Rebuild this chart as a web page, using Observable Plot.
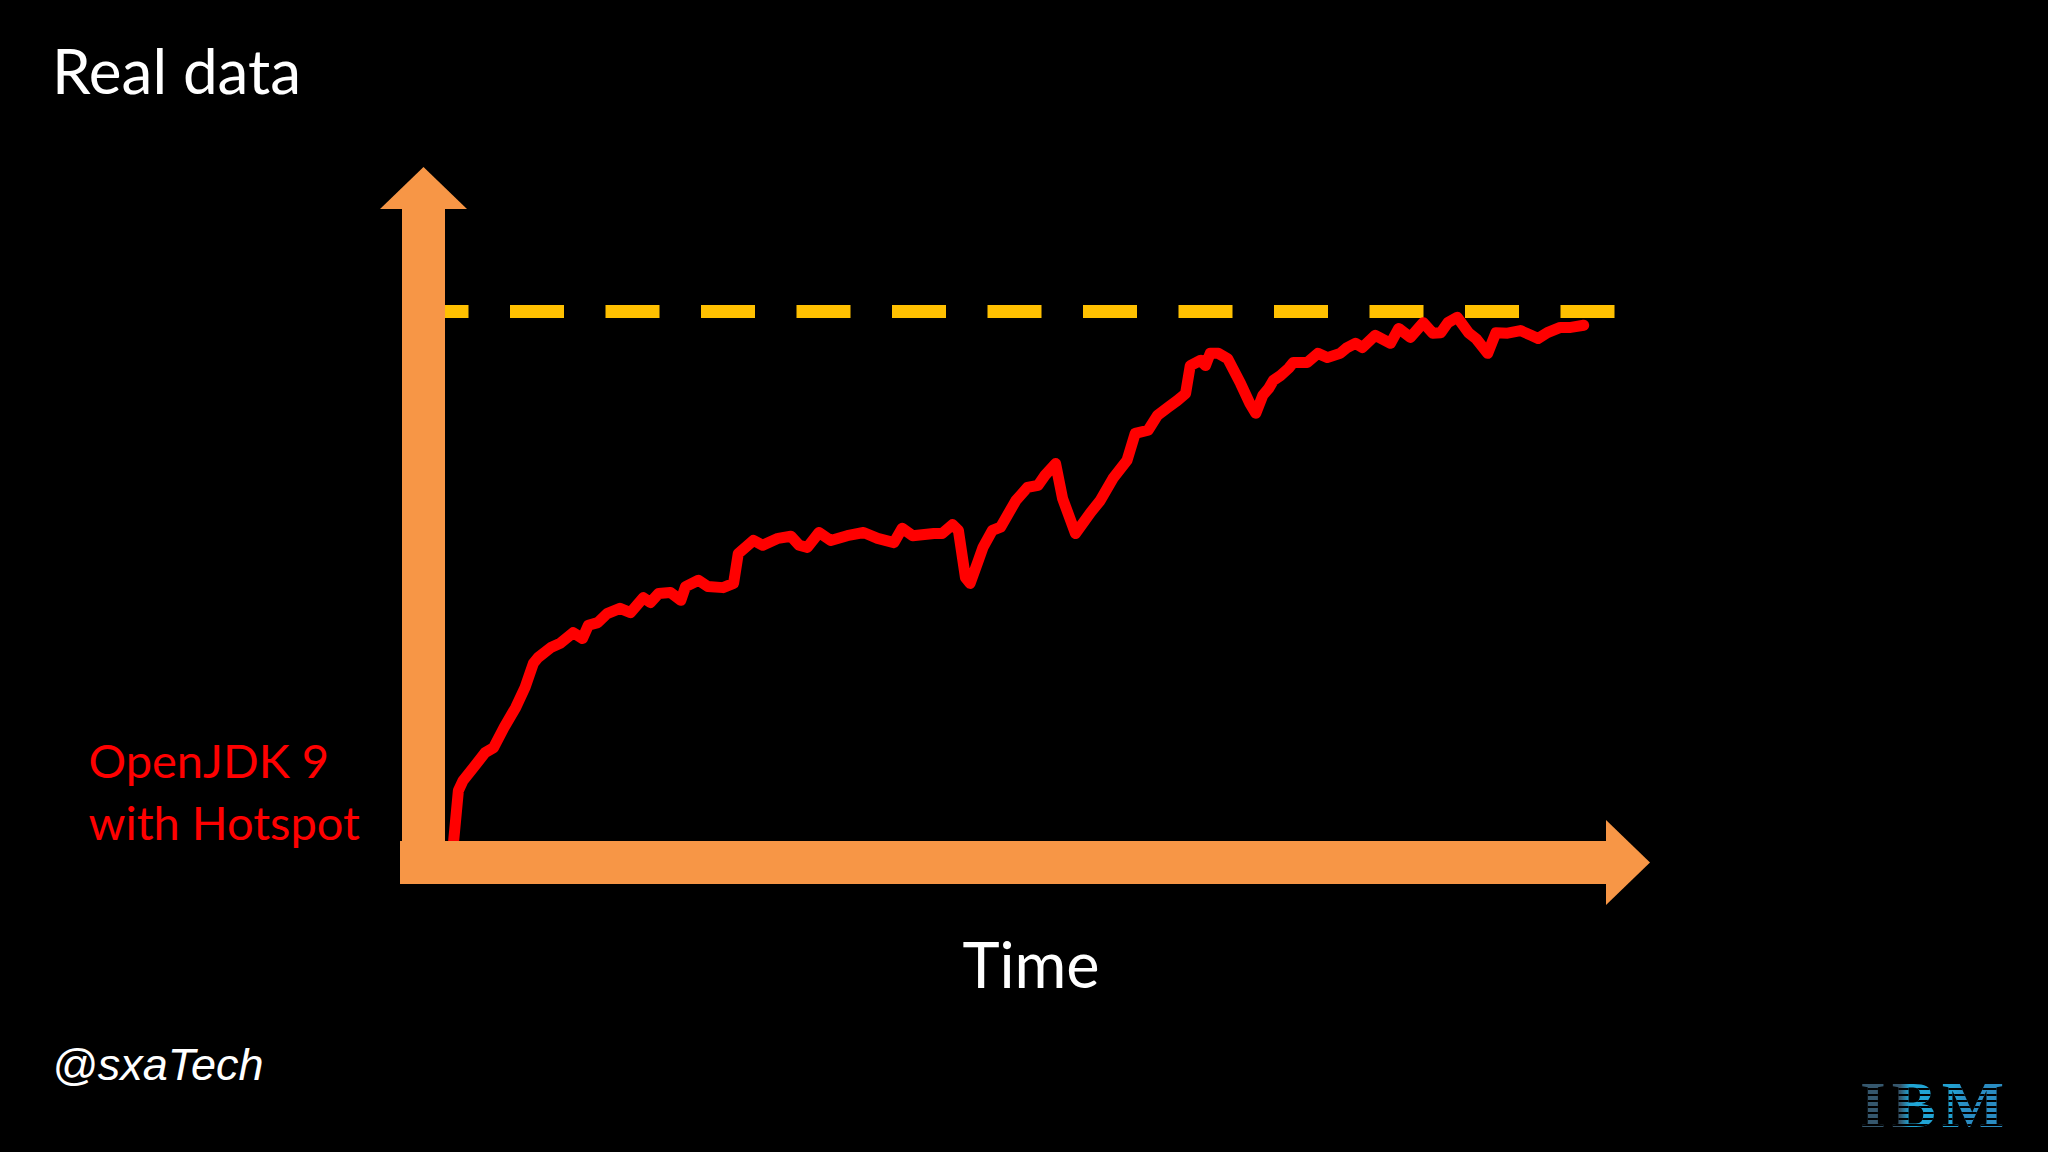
<!DOCTYPE html>
<html>
<head>
<meta charset="utf-8">
<script src="https://cdn.jsdelivr.net/npm/d3@7"></script>
<script src="https://cdn.jsdelivr.net/npm/@observablehq/plot@0.6"></script>
<style>
  html, body { margin: 0; padding: 0; background: #000; }
  #page { position: relative; width: 2048px; height: 1152px; background: #000; overflow: hidden; }
  #title { position: absolute; left: 52px; top: 39px; font-family: Lato, "Open Sans", sans-serif; font-size: 62px; line-height: 62px; color: #fff; white-space: nowrap; }
  #chart { position: absolute; left: 0; top: 130px; }
  #handle { position: absolute; left: 52px; top: 1042px; font-family: "Liberation Sans", Arial, sans-serif; font-style: italic; font-size: 45px; line-height: 45px; color: #fff; white-space: nowrap; }
  #logo { position: absolute; left: 1860px; top: 1072px; font-family: "Liberation Serif", serif; font-weight: bold; font-size: 66px; line-height: 66px; letter-spacing: 6px; white-space: nowrap;
    background-image: repeating-linear-gradient(to bottom, transparent 0px, transparent 4px, #000 4px, #000 6px), linear-gradient(to right, #35576d 0%, #35576d 27%, #20a6d6 33%, #22a0d0 62%, #2a8cc2 70%, #2a8cc2 100%);
    -webkit-background-clip: text; background-clip: text; color: transparent; }
</style>
</head>
<body>
<div id="page">
  <div id="title">Real data</div>
  <div id="chart"></div>
  <div id="handle">@sxaTech</div>
  <div id="logo">IBM</div>
</div>
<script>
// ---- data ----
const time = [0.7,1.1,1.5,2.4,3.4,4.1,5.0,6.0,6.8,7.5,7.9,9.0,9.8,10.9,11.7,12.2,13.0,13.8,14.9,15.8,16.9,17.5,18.2,19.2,20.1,20.5,21.6,22.4,23.7,24.6,25.0,26.3,27.1,28.4,29.5,30.2,30.9,31.9,32.9,34.3,35.7,36.9,38.3,39.0,39.9,41.7,42.4,43.3,43.8,44.4,44.8,45.5,45.9,46.7,47.4,48.7,49.7,50.6,51.2,52.1,52.7,53.8,55.1,55.9,57.0,58.2,58.9,60.0,60.8,61.7,62.5,63.2,63.6,64.5,64.9,65.3,66.0,66.8,67.9,68.7,69.2,69.8,70.3,70.7,71.3,72.0,72.4,73.6,74.5,75.3,76.4,77.0,77.7,78.3,79.4,80.7,81.4,82.4,83.5,84.3,85.0,85.6,86.4,87.4,88.0,89.0,89.7,90.7,91.8,92.7,93.3,94.1,95.2,96.1,97.2];
const performance = [0.2,9.6,11.5,14.0,16.8,17.7,21.5,25.3,29.1,33.6,34.7,36.6,37.4,39.4,38.3,40.8,41.3,43.0,44.0,43.2,46.0,45.1,46.8,47.0,45.5,48.1,49.3,48.1,47.9,48.7,54.3,56.8,55.9,57.2,57.6,55.9,55.5,58.3,56.8,57.7,58.3,57.2,56.4,59.1,57.7,58.1,58.1,59.8,58.7,49.8,48.7,53.0,55.5,58.7,59.3,64.3,66.8,67.2,69.1,71.3,64.7,58.1,62.1,64.3,68.5,71.9,77.0,77.6,80.4,81.9,83.2,84.5,89.8,90.8,89.8,92.1,92.1,91.1,86.4,82.6,80.8,84.2,85.5,87.0,87.9,89.3,90.4,90.4,92.1,91.3,92.1,93.2,94.0,93.2,95.5,94.0,96.8,95.1,97.9,95.9,96.0,97.9,98.9,95.9,94.9,92.1,96.0,95.9,96.4,95.5,94.9,96.0,97.0,97.0,97.4];
const target = [100];
const xDomain = [0, 100];
const yDomain = [0, 100];
const seriesLabel = "OpenJDK 9\nwith Hotspot";
const xLabel = "Time";

const ORANGE = "#F79646", YELLOW = "#FFC000", RED = "#FF0000";
const rows = time.map((t, i) => ({t, v: performance[i]}));

// hand-drawn style axes: thick arrows positioned from the scales
function arrowAxes(index, {x, y}) {
  const x0 = x(xDomain[0]), y0 = y(yDomain[0]);
  const xEnd = x(xDomain[1]), yTop = y(yDomain[1]);
  const S = 43;
  const g = d3.create("svg:g").attr("fill", ORANGE);
  g.append("rect").attr("x", x0 - S).attr("y", yTop - 103).attr("width", S).attr("height", (y0 + S) - (yTop - 103));
  const vc = x0 - S / 2;
  g.append("path").attr("d", `M${vc - 43.5},${yTop - 102}L${vc},${yTop - 144}L${vc + 43.5},${yTop - 102}Z`);
  g.append("rect").attr("x", x0 - 45).attr("y", y0).attr("width", (xEnd - 9) - (x0 - 45)).attr("height", S);
  const hc = y0 + S / 2;
  g.append("path").attr("d", `M${xEnd - 10},${hc - 42.5}L${xEnd + 34},${hc}L${xEnd - 10},${hc + 42.5}Z`);
  return g.node();
}

const chart = Plot.plot({
  width: 2048,
  height: 1022,
  marginLeft: 445,
  marginRight: 432,
  marginTop: 181,
  marginBottom: 311,
  x: {domain: xDomain, axis: null},
  y: {domain: yDomain, axis: null},
  style: {background: "transparent", color: "#fff"},
  marks: [
    Plot.ruleY(target, {x1: xDomain[0], x2: xDomain[1], stroke: YELLOW, strokeWidth: 13, strokeDasharray: "54 41.5", strokeDashoffset: 30.5}),
    Plot.line(rows, {x: "t", y: "v", stroke: RED, strokeWidth: 11, strokeLinejoin: "round", strokeLinecap: "round"}),
    arrowAxes,
    Plot.text([seriesLabel], {text: d => d, frameAnchor: "bottom-left", textAnchor: "start", lineAnchor: "bottom", dx: -357, dy: -2, fill: RED, fontSize: 47, lineHeight: 62 / 47, fontFamily: "Lato"}),
    Plot.text([xLabel], {text: d => d, frameAnchor: "bottom", lineAnchor: "bottom", dy: 146, fill: "#fff", fontSize: 63, fontFamily: "Lato"})
  ]
});
document.getElementById("chart").appendChild(chart);
</script>
</body>
</html>
